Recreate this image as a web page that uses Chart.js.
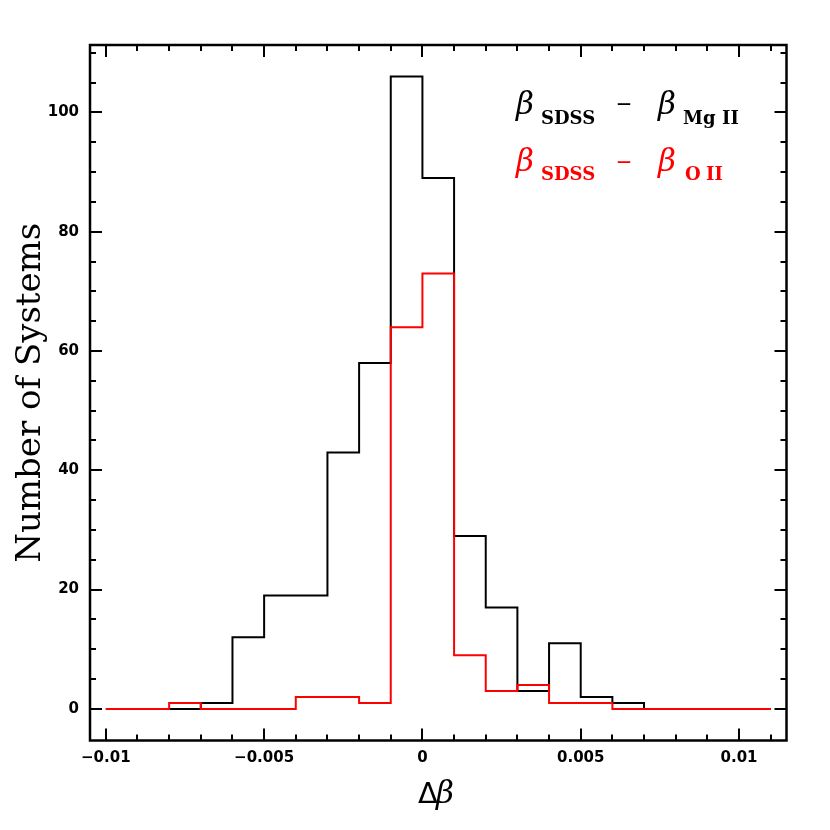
<!DOCTYPE html>
<html>
<head>
<meta charset="utf-8">
<script src="https://cdn.jsdelivr.net/npm/chart.js@4.4.1/dist/chart.umd.min.js"></script>
<style>
  html, body { margin: 0; padding: 0; background: #fff; }
  #wrap { width: 830px; height: 830px; position: relative; }
</style>
</head>
<body>
<div id="wrap"><canvas id="c" width="830" height="830"></canvas></div>
<script>
// ---- Data (histogram bins of Δβ) ----
const binEdges = [-0.010, -0.009, -0.008, -0.007, -0.006, -0.005, -0.004, -0.003, -0.002, -0.001,
                  0.000, 0.001, 0.002, 0.003, 0.004, 0.005, 0.006, 0.007, 0.008, 0.009, 0.010, 0.011];
const mgIICounts = [0, 0, 0, 1, 12, 19, 19, 43, 58, 106, 89, 29, 17, 3, 11, 2, 1, 0, 0, 0, 0];
const oIICounts  = [0, 0, 1, 0, 0, 0, 2, 2, 1, 64, 73, 9, 3, 4, 1, 1, 0, 0, 0, 0, 0];

// ---- Axes ----
const xRange = [-0.0105, 0.0115];
const yRange = [-5.3, 111.3];
const xTickValues = [-0.01, -0.005, 0, 0.005, 0.01];
const xTickLabels = ['\u22120.01', '\u22120.005', '0', '0.005', '0.01'];
const xMinorTicks = binEdges;
const yTickValues = [0, 20, 40, 60, 80, 100];
const yTickLabels = ['0', '20', '40', '60', '80', '100'];
const yMinorTicks = [0, 5, 10, 15, 20, 25, 30, 35, 40, 45, 50, 55, 60, 65, 70, 75, 80, 85, 90, 95, 100, 105, 110];

function stepPoints(edges, counts) {
  return edges.map((e, i) => ({ x: e, y: counts[Math.min(i, counts.length - 1)] }));
}

const framePlugin = {
  id: 'frameTicks',
  afterDatasetsDraw(chart) {
    const { ctx, chartArea: a, scales: { x, y } } = chart;
    ctx.save();
    ctx.strokeStyle = '#000';
    ctx.lineWidth = 2;
    ctx.lineCap = 'butt';
    ctx.beginPath();
    xMinorTicks.forEach(v => {
      const px = Math.round(x.getPixelForValue(v));
      const major = xTickValues.some(m => Math.abs(m - v) < 1e-9);
      const len = major ? 12 : 6;
      ctx.moveTo(px, a.bottom); ctx.lineTo(px, a.bottom - len);
      ctx.moveTo(px, a.top); ctx.lineTo(px, a.top + len);
    });
    yMinorTicks.forEach(v => {
      const py = Math.round(y.getPixelForValue(v));
      const major = yTickValues.includes(v);
      const len = major ? 12 : 6;
      ctx.moveTo(a.left, py); ctx.lineTo(a.left + len, py);
      ctx.moveTo(a.right, py); ctx.lineTo(a.right - len, py);
    });
    ctx.stroke();
    ctx.lineWidth = 2.5;
    ctx.strokeRect(a.left, a.top, a.right - a.left, a.bottom - a.top);

    // x-axis title
    ctx.textBaseline = 'alphabetic';
    ctx.textAlign = 'left';
    ctx.fillStyle = '#000';
    ctx.font = '29px "DejaVu Sans"';
    ctx.fillText('\u0394', 418, 803);
    ctx.font = 'italic 31px "DejaVu Serif"';
    ctx.fillText('\u03B2', 436, 803);

    // legend text
    const drawEntry = (color, baseY, subBase, sub2a, sub2aX, sub2b, sub2bX, dashBase) => {
      ctx.fillStyle = color;
      ctx.textAlign = 'left';
      ctx.font = 'italic 31px "DejaVu Serif"';
      ctx.fillText('\u03B2', 516, baseY);
      ctx.fillText('\u03B2', 658, baseY);
      ctx.font = 'bold 18px "DejaVu Serif"';
      ctx.fillText('SDSS', 541, subBase);
      ctx.fillText(sub2a, sub2aX, subBase);
      ctx.fillText(sub2b, sub2bX, subBase);
      ctx.font = 'bold 14px "DejaVu Sans"';
      ctx.textAlign = 'center';
      ctx.fillText('\u2014', 624, dashBase);
      ctx.textAlign = 'left';
    };
    drawEntry('#000', 114, 123.5, 'Mg', 683, 'II', 722, 108);
    drawEntry('#ff0000', 170.5, 180, 'O', 685, 'II', 706, 166);
    ctx.restore();
  }
};

new Chart(document.getElementById('c'), {
  type: 'line',
  data: {
    datasets: [
      {
        label: '\u03B2SDSS \u2212 \u03B2O II',
        data: stepPoints(binEdges, oIICounts),
        borderColor: '#ff0000',
        borderWidth: 2,
        stepped: true,
        pointRadius: 0,
        fill: false
      },
      {
        label: '\u03B2SDSS \u2212 \u03B2Mg II',
        data: stepPoints(binEdges, mgIICounts),
        borderColor: '#000000',
        borderWidth: 2,
        stepped: true,
        pointRadius: 0,
        fill: false
      }
    ]
  },
  options: {
    responsive: false,
    animation: false,
    events: [],
    layout: { padding: { left: 0, top: 45, right: 43.5, bottom: 0 } },
    plugins: { legend: { display: false }, tooltip: { enabled: false } },
    scales: {
      x: {
        type: 'linear',
        min: xRange[0],
        max: xRange[1],
        grid: { display: false, drawTicks: false },
        border: { display: false },
        afterBuildTicks: s => { s.ticks = xTickValues.map(v => ({ value: v })); },
        afterFit: s => { s.height = 89.5; },
        ticks: {
          padding: 9,
          autoSkip: false,
          maxRotation: 0,
          color: '#000',
          font: { family: 'DejaVu Sans', size: 15, weight: 'bold' },
          callback: (v, i) => xTickLabels[i]
        }
      },
      y: {
        type: 'linear',
        min: yRange[0],
        max: yRange[1],
        grid: { display: false, drawTicks: false },
        border: { display: false },
        afterBuildTicks: s => { s.ticks = yTickValues.map(v => ({ value: v })); },
        afterFit: s => { s.width = 90; },
        ticks: {
          padding: 11,
          autoSkip: false,
          color: '#000',
          font: { family: 'DejaVu Sans', size: 15, weight: 'bold' },
          callback: (v, i) => yTickLabels[i]
        },
        title: {
          display: true,
          text: 'Number of Systems',
          color: '#000',
          font: { family: 'DejaVu Serif', size: 34 },
          padding: { top: 11, bottom: 0 }
        }
      }
    }
  },
  plugins: [framePlugin]
});
</script>
</body>
</html>
